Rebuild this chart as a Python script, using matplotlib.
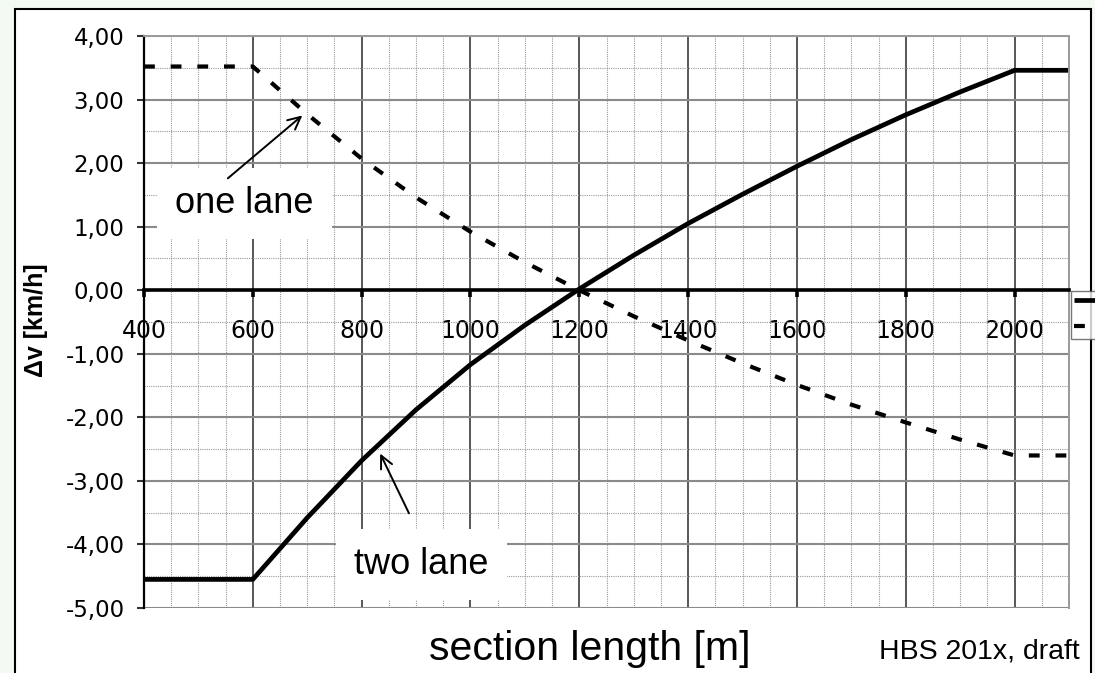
import matplotlib
matplotlib.use("Agg")
import matplotlib.pyplot as plt
from matplotlib.patches import Rectangle
from matplotlib.ticker import MultipleLocator, FuncFormatter

# section length [m] and speed difference [km/h]
section_length = [400, 600, 700, 800, 900, 1000, 1100, 1200, 1300, 1400,
                  1500, 1600, 1700, 1800, 1900, 2000, 2100]
dv_two_lane = [-4.55, -4.55, -3.58, -2.68, -1.88, -1.17, -0.55, 0.02, 0.55, 1.05,
               1.51, 1.95, 2.37, 2.76, 3.12, 3.46, 3.46]
dv_one_lane = [3.52, 3.52, 2.77, 2.07, 1.46, 0.92, 0.44, 0.00, -0.41, -0.79,
               -1.15, -1.49, -1.80, -2.08, -2.35, -2.60, -2.60]

x_ticks = [400, 600, 800, 1000, 1200, 1400, 1600, 1800, 2000]
y_ticks = [-5, -4, -3, -2, -1, 0, 1, 2, 3, 4]

TXT = "Liberation Sans"

fig = plt.figure(figsize=(10.95, 6.73), dpi=100)
fig.patch.set_facecolor("#f3f9f3")

# outer chart area box (bottom edge runs off the picture)
frame = Rectangle((15 / 1095, -0.1), (1091 - 15) / 1095, 1.1 - 9 / 673,
                  transform=fig.transFigure, facecolor="white", edgecolor="black",
                  linewidth=1.5, zorder=-1)
fig.patches.append(frame)

ax = fig.add_axes([144 / 1095, 65 / 673, 925 / 1095, 572 / 673])
ax.set_facecolor("white")
ax.set_xlim(400, 2100)
ax.set_ylim(-5, 4)

# grid
ax.set_axisbelow(True)
ax.xaxis.set_major_locator(plt.FixedLocator(x_ticks))
ax.yaxis.set_major_locator(plt.FixedLocator(y_ticks))
ax.xaxis.set_minor_locator(MultipleLocator(50))
ax.yaxis.set_minor_locator(MultipleLocator(0.5))
ax.grid(which="major", axis="y", color="#8a8a8a", linewidth=1.5)
ax.grid(which="major", axis="x", color="#2a2a2a", linewidth=1.1)
ax.grid(which="minor", color="#9a9a9a", linewidth=0.8, linestyle=(0, (1, 1)))

# curves
two, = ax.plot(section_length, dv_two_lane, color="black", linewidth=3.4,
               solid_capstyle="butt", solid_joinstyle="round")
one, = ax.plot(section_length, dv_one_lane, color="black", linewidth=3.0,
               dashes=(2.6, 3.8))

# spines
ax.spines["bottom"].set_position(("data", 0))
ax.spines["bottom"].set_linewidth(2.6)
ax.spines["bottom"].set_zorder(2.5)
ax.spines["left"].set_linewidth(1.6)
for s in ("top", "right"):
    ax.spines[s].set_color("#9a9a9a")
    ax.spines[s].set_linewidth(1.4)

# ticks
ax.tick_params(axis="x", which="major", direction="out", length=5, width=2.6,
               pad=16, labelsize=17, labelfontfamily="DejaVu Sans")
ax.tick_params(axis="y", which="major", direction="out", length=5, width=1.5,
               color="#333333", pad=9, labelsize=16.5, labelfontfamily="DejaVu Sans")
ax.tick_params(which="minor", length=0)
ax.yaxis.set_major_formatter(FuncFormatter(lambda v, p: f"{v:.2f}".replace(".", ",")))

# annotations
box = dict(boxstyle="square,pad=0.5", facecolor="white", edgecolor="none")
ax.text(585, 1.22, "one lane", ha="center", va="baseline", fontsize=26,
        family=TXT, bbox=box, zorder=1.5)
ax.text(910, -4.46, "two lane", ha="center", va="baseline", fontsize=26,
        family=TXT, bbox=box, zorder=1.5)
arrow = dict(arrowstyle="->,head_length=0.45,head_width=0.22", color="black",
             linewidth=1.4, shrinkA=0, shrinkB=0, mutation_scale=20)
ax.annotate("", xy=(691, 2.75), xytext=(554, 1.76), arrowprops=arrow, zorder=3)
ax.annotate("", xy=(834, -2.57), xytext=(887, -3.51), arrowprops=arrow, zorder=3)

# legend, cut off at the right edge like in the draft: only the line samples show
leg = ax.legend([two, one], ["", ""], loc="upper left", bbox_to_anchor=(1.002, 0.555),
                frameon=True, fancybox=False, edgecolor="#555555", borderpad=0.15,
                borderaxespad=0, handlelength=2.0, labelspacing=0.5,
                prop={"family": TXT, "size": 13})
leg.get_frame().set_linewidth(1.0)

fig.text(36 / 1095, 1 - 320 / 673, "\u0394v [km/h]", rotation=90, ha="center",
         va="center", fontsize=18, fontweight="bold", family=TXT)
fig.text(590 / 1095, 13 / 673, "section length [m]", ha="center", va="baseline",
         fontsize=29.5, family=TXT)
fig.text(1080 / 1095, 15 / 673, "HBS 201x, draft", ha="right", va="baseline",
         fontsize=20.5, family=TXT)

fig.savefig("out.png", dpi=100, facecolor=fig.get_facecolor())
